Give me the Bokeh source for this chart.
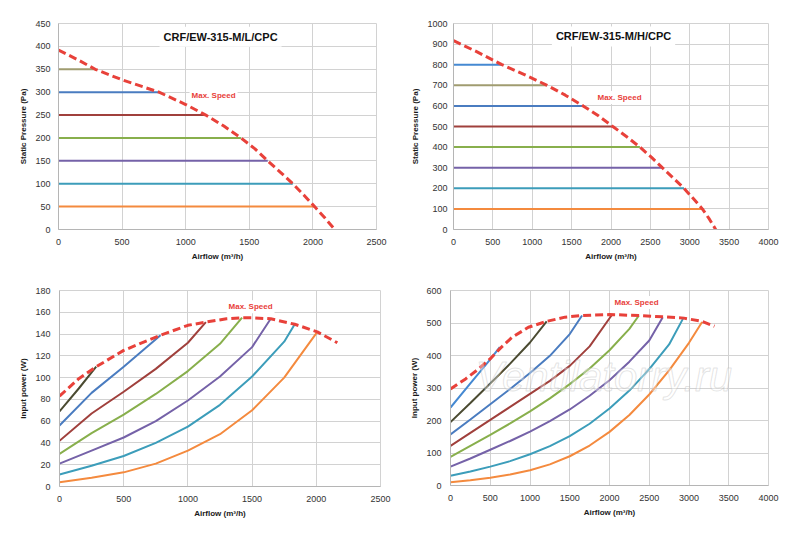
from bokeh.plotting import figure
from bokeh.models import Range1d, FixedTicker, Label, ColumnDataSource, Spacer
from bokeh.layouts import column, row
from bokeh.embed import file_html
from bokeh.resources import INLINE
from bokeh.core.properties import value

# ---------------- data ----------------
# Top-left: CRF/EW-315-M/L/CPC static pressure
ml_levels = [350, 300, 250, 200, 150, 100, 50]
ml_level_end = [289, 790, 1158, 1434, 1645, 1842, 2013]
ml_max_x = [0, 150, 289, 500, 790, 1000, 1158, 1300, 1434, 1545, 1645, 1745, 1842, 1930, 2013, 2095, 2172]
ml_max_y = [392, 371, 350, 327, 300, 273, 250, 226, 200, 176, 150, 125, 100, 75, 50, 25, 0]

# Top-right: CRF/EW-315-M/H/CPC static pressure
mh_levels = [800, 700, 600, 500, 400, 300, 200, 100]
mh_level_end = [615, 1188, 1646, 2023, 2367, 2651, 2927, 3160]
mh_max_x = [0, 300, 615, 900, 1188, 1420, 1646, 1840, 2023, 2200, 2367, 2515, 2651, 2790, 2927, 3045, 3160, 3250, 3330]
mh_max_y = [917, 862, 800, 752, 700, 652, 600, 552, 500, 450, 400, 350, 300, 250, 200, 150, 100, 50, 0]

# Bottom-left: input power M/L (one series per pressure level)
ml_pw_x = [
    [0, 150, 286],                                        # 350 Pa
    [0, 250, 500, 787],                                   # 300 Pa
    [0, 250, 500, 750, 1000, 1140],                       # 250 Pa
    [0, 250, 500, 750, 1000, 1250, 1422],                 # 200 Pa
    [0, 250, 500, 750, 1000, 1250, 1500, 1645],           # 150 Pa
    [0, 250, 500, 750, 1000, 1250, 1500, 1750, 1832],     # 100 Pa
    [0, 250, 500, 750, 1000, 1250, 1500, 1750, 2008],     # 50 Pa
]
ml_pw_y = [
    [69, 90, 110],
    [56, 86, 110, 139],
    [42, 67, 87, 108, 132, 151],
    [30, 49, 66, 85, 106, 131, 155],
    [21, 33, 45, 60, 79, 101, 128, 154],
    [11, 19, 28, 40, 55, 75, 101, 133, 149],
    [4, 8, 13, 21, 33, 48, 70, 100, 142],
]
ml_pw_max_x = [0, 150, 286, 500, 787, 1000, 1140, 1300, 1422, 1495, 1645, 1832, 2008, 2164]
ml_pw_max_y = [83, 99, 110, 125, 139, 148, 151, 154, 155, 155, 154, 149, 142, 132]

# Bottom-right: input power M/H
mh_pw_x = [
    [0, 250, 500, 620],                                                           # 800 Pa
    [0, 250, 500, 750, 1000, 1210],                                               # 700 Pa
    [0, 250, 500, 750, 1000, 1250, 1500, 1655],                                   # 600 Pa
    [0, 250, 500, 750, 1000, 1250, 1500, 1750, 2025],                             # 500 Pa
    [0, 250, 500, 750, 1000, 1250, 1500, 1750, 2000, 2250, 2370],                 # 400 Pa
    [0, 250, 500, 750, 1000, 1250, 1500, 1750, 2000, 2250, 2500, 2670],           # 300 Pa
    [0, 250, 500, 750, 1000, 1250, 1500, 1750, 2000, 2250, 2500, 2750, 2935],     # 200 Pa
    [0, 250, 500, 750, 1000, 1250, 1500, 1750, 2000, 2250, 2500, 2750, 3000, 3165],  # 100 Pa
]
mh_pw_y = [
    [240, 314, 388, 426],
    [195, 254, 314, 375, 440, 505],
    [157, 203, 250, 297, 346, 399, 466, 523],
    [122, 162, 202, 242, 282, 322, 368, 428, 523],
    [88, 122, 156, 191, 228, 268, 312, 360, 416, 482, 523],
    [58, 83, 110, 137, 166, 198, 234, 276, 324, 381, 446, 518],
    [30, 43, 58, 75, 96, 121, 152, 190, 237, 292, 358, 434, 518],
    [10, 16, 24, 34, 47, 65, 90, 123, 165, 217, 280, 354, 439, 503],
]
mh_pw_max_x = [0, 190, 355, 500, 625, 770, 980, 1210, 1440, 1655, 2000, 2370, 2670, 2935, 3165, 3320]
mh_pw_max_y = [297, 328, 359, 390, 422, 455, 487, 505, 518, 523, 526, 523, 519, 515, 505, 490]

ml_x_ticks = [0, 500, 1000, 1500, 2000, 2500]
mh_x_ticks = [0, 500, 1000, 1500, 2000, 2500, 3000, 3500, 4000]
ml_p_ticks = [0, 50, 100, 150, 200, 250, 300, 350, 400, 450]
mh_p_ticks = [0, 100, 200, 300, 400, 500, 600, 700, 800, 900, 1000]
ml_w_ticks = [0, 20, 40, 60, 80, 100, 120, 140, 160, 180]
mh_w_ticks = [0, 100, 200, 300, 400, 500, 600]

# ---------------- styles ----------------
ORANGE = "#F48A3E"
TEAL = "#3C9DBA"
PURPLE = "#7562A8"
GREEN = "#88AF4C"
DRED = "#A0403C"
BLUE = "#4A7CC0"
OLIVE_T = "#A09C70"
OLIVE_B = "#4B4B32"
LBLUE = "#4589D2"
RED = "#E8413A"

ml_top_colors = [OLIVE_T, BLUE, DRED, GREEN, PURPLE, TEAL, ORANGE]
mh_top_colors = [LBLUE, OLIVE_T, BLUE, DRED, GREEN, PURPLE, TEAL, ORANGE]
ml_bot_colors = [OLIVE_B, BLUE, DRED, GREEN, PURPLE, TEAL, ORANGE]
mh_bot_colors = [LBLUE, OLIVE_B, BLUE, DRED, GREEN, PURPLE, TEAL, ORANGE]

FONT = "Liberation Sans"
GRID = "#d2d2d2"


def make_fig(xmax, ymax, xticks, yticks, ylabel, bl, fw, br, bt, fh, bb, ystand):
    p = figure(output_backend="svg", toolbar_location=None,
               x_range=Range1d(0, xmax), y_range=Range1d(0, ymax),
               frame_width=fw, frame_height=fh,
               min_border_left=bl, min_border_right=br,
               min_border_top=bt, min_border_bottom=bb,
               background_fill_color="white", border_fill_color="white")
    p.outline_line_color = GRID
    p.outline_line_width = 1
    p.xaxis.ticker = FixedTicker(ticks=xticks)
    p.yaxis.ticker = FixedTicker(ticks=yticks)
    p.xgrid.ticker = FixedTicker(ticks=xticks)
    p.ygrid.ticker = FixedTicker(ticks=yticks)
    p.grid.grid_line_color = GRID
    p.grid.grid_line_width = 1
    for ax in (p.xaxis[0], p.yaxis[0]):
        ax.axis_line_color = "#b5b5b5"
        ax.major_tick_line_color = None
        ax.minor_tick_line_color = None
        ax.major_tick_out = 0
        ax.major_tick_in = 0
        ax.major_label_text_font = FONT
        ax.major_label_text_font_size = "9px"
        ax.major_label_text_color = "#333333"
        ax.axis_label_text_font = FONT
        ax.axis_label_text_font_style = "bold"
        ax.axis_label_text_font_size = "8px"
        ax.axis_label_text_color = "#1a1a1a"
    p.xaxis.axis_label = "Airflow (m³/h)"
    p.yaxis.axis_label = ylabel
    p.xaxis.major_label_standoff = 9
    p.xaxis.axis_label_standoff = 4
    p.yaxis.major_label_standoff = ystand
    p.yaxis.axis_label_standoff = 4
    return p


def add_label(p, text, x, y, size, color, bold=True, pad=3):
    lab = Label(x=x, y=y, text=text, text_align="center", text_baseline="middle",
                text_font=FONT, text_font_size=size, text_color=color,
                text_font_style="bold" if bold else "normal",
                background_fill_color="white", padding=pad)
    p.add_layout(lab)


# ---- top-left ----
p1 = make_fig(2500, 450, ml_x_ticks, ml_p_ticks, "Static Pressure (Pa)",
              58, 318, 24, 23, 206, 45, 8)
for lev, end, c in zip(ml_levels, ml_level_end, ml_top_colors):
    p1.line(x=[0, end], y=[lev, lev], line_color=c, line_width=2)
p1.line(x=ml_max_x, y=ml_max_y, line_color=RED, line_width=3, line_dash="8 4")
add_label(p1, "CRF/EW-315-M/L/CPC", 1274, 421, "11px", "#111111", pad=4)
add_label(p1, "Max. Speed", 1219, 293, "8px", RED, pad=2)

# ---- top-right ----
p2 = make_fig(4000, 1000, mh_x_ticks, mh_p_ticks, "Static Pressure (Pa)",
              53, 315, 24, 23, 206, 45, 6)
for lev, end, c in zip(mh_levels, mh_level_end, mh_top_colors):
    p2.line(x=[0, end], y=[lev, lev], line_color=c, line_width=2)
p2.line(x=mh_max_x, y=mh_max_y, line_color=RED, line_width=3, line_dash="8 4")
add_label(p2, "CRF/EW-315-M/H/CPC", 2032, 937, "11px", "#111111", pad=4)
add_label(p2, "Max. Speed", 2108, 641, "8px", RED, pad=2)

# ---- bottom-left ----
p3 = make_fig(2500, 180, ml_x_ticks, ml_w_ticks, "Input power (W)",
              59, 321, 20, 13, 196, 40, 9)
for xs, ys, c in zip(ml_pw_x, ml_pw_y, ml_bot_colors):
    p3.line(x=xs, y=ys, line_color=c, line_width=2)
p3.line(x=ml_pw_max_x, y=ml_pw_max_y, line_color=RED, line_width=3, line_dash="8 4")
add_label(p3, "Max. Speed", 1488, 165, "8px", RED, pad=2)

# ---- bottom-right ----
p4 = make_fig(4000, 600, mh_x_ticks, mh_w_ticks, "Input power (W)",
              50, 318, 24, 14, 195, 40, 9)
for xs, ys, c in zip(mh_pw_x, mh_pw_y, mh_bot_colors):
    p4.line(x=xs, y=ys, line_color=c, line_width=2)
p4.line(x=mh_pw_max_x, y=mh_pw_max_y, line_color=RED, line_width=3, line_dash="8 4")
add_label(p4, "Max. Speed", 2340, 563, "8px", RED, pad=2)
wm = ColumnDataSource(dict(x=[314], y=[335], t=["Ventilatorry.ru"]))
p4.text(x="x", y="y", text="t", source=wm, text_font=value(FONT),
        text_font_style="italic", text_font_size="42px",
        text_color="white", text_alpha=0.35,
        text_outline_color="#b0b0b0", text_baseline="alphabetic")

sep = figure(output_backend="svg", toolbar_location=None, width=775, height=2,
             min_border=0, x_axis_location=None, y_axis_location=None,
             background_fill_color="#d0d0d0", border_fill_color="#d0d0d0",
             outline_line_color=None)
sep.grid.visible = False

layout = column(row(p1, p2), row(Spacer(width=10, height=2), sep), row(p3, p4))

with open("out.html", "w") as f:
    f.write(file_html(layout, INLINE))
